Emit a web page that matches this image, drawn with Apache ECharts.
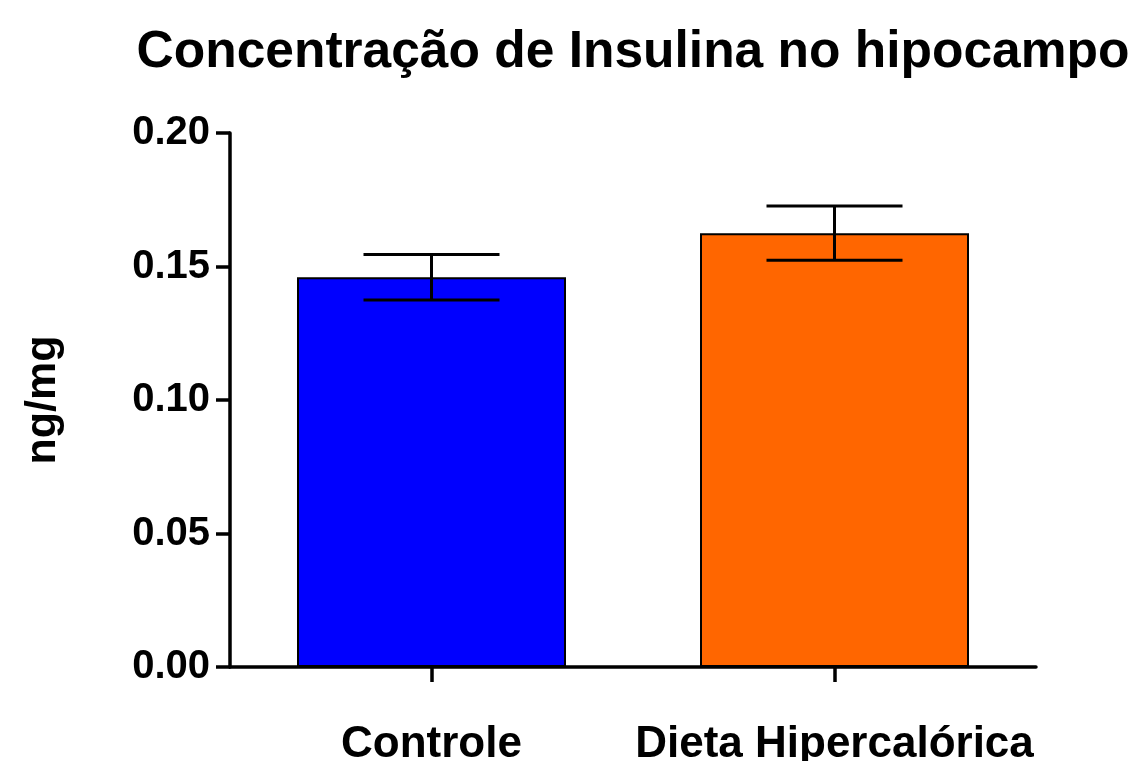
<!DOCTYPE html>
<html>
<head>
<meta charset="utf-8">
<script src="https://cdn.jsdelivr.net/npm/echarts@6/dist/echarts.min.js"></script>
<style>
  html, body { margin: 0; padding: 0; background: #fff; }
  #chart { width: 1131px; height: 761px; }
</style>
</head>
<body>
<div id="chart"></div>
<script>
// data
const categories = ['Controle', 'Dieta Hipercalórica']
const means = [0.146, 0.1625]
const sem = [0.0085, 0.0102]
const barColors = ['#0000ff', '#ff6600']
const yTicks = [0, 0.05, 0.10, 0.15, 0.20]

const chart = echarts.init(document.getElementById('chart'))
const font = 'Liberation Sans, Arial, sans-serif'

chart.setOption({
  animation: false,
  title: {
    text: 'Concentração de Insulina no hipocampo',
    left: 628,
    top: 22,
    textAlign: 'center',
    textStyle: { fontFamily: font, fontWeight: 'bold', fontSize: 51.5, color: '#000' }
  },
  grid: { left: 230, right: 95, top: 133, bottom: 94, outerBoundsMode: 'none' },
  xAxis: {
    type: 'category',
    data: categories,
    axisLine: { lineStyle: { color: '#000', width: 3.5 } },
    axisTick: { show: true, alignWithLabel: true, length: 15, lineStyle: { color: '#000', width: 3.5 } },
    axisLabel: {
      interval: 0,
      margin: 56,
      color: '#000',
      fontFamily: font,
      fontWeight: 'bold',
      fontSize: 44
    }
  },
  yAxis: {
    type: 'value',
    min: yTicks[0],
    max: yTicks[yTicks.length - 1],
    interval: 0.05,
    name: 'ng/mg',
    nameLocation: 'middle',
    nameGap: 165,
    nameRotate: 90,
    nameTextStyle: { fontFamily: font, fontWeight: 'bold', fontSize: 43, color: '#000' },
    axisLine: { show: true, lineStyle: { color: '#000', width: 3.5 } },
    axisTick: { show: true, length: 14, lineStyle: { color: '#000', width: 3.5 } },
    splitLine: { show: false },
    axisLabel: {
      margin: 20,
      color: '#000',
      fontFamily: font,
      fontWeight: 'bold',
      fontSize: 40,
      formatter: v => v.toFixed(2)
    }
  },
  series: [
    {
      type: 'bar',
      barWidth: 269,
      data: means.map((v, i) => ({
        value: v,
        itemStyle: { color: barColors[i], borderColor: '#000', borderWidth: 2 }
      }))
    },
    {
      type: 'custom',
      z: 10,
      data: means.map((v, i) => [i, v - sem[i], v + sem[i]]),
      renderItem: function (params, api) {
        const lo = api.coord([api.value(0), api.value(1)])
        const hi = api.coord([api.value(0), api.value(2)])
        const hw = 68
        const style = { stroke: '#000', lineWidth: 3 }
        return {
          type: 'group',
          children: [
            { type: 'line', shape: { x1: hi[0], y1: hi[1], x2: lo[0], y2: lo[1] }, style: style },
            { type: 'line', shape: { x1: hi[0] - hw, y1: hi[1], x2: hi[0] + hw, y2: hi[1] }, style: style },
            { type: 'line', shape: { x1: lo[0] - hw, y1: lo[1], x2: lo[0] + hw, y2: lo[1] }, style: style }
          ]
        }
      }
    }
  ]
})
</script>
</body>
</html>
